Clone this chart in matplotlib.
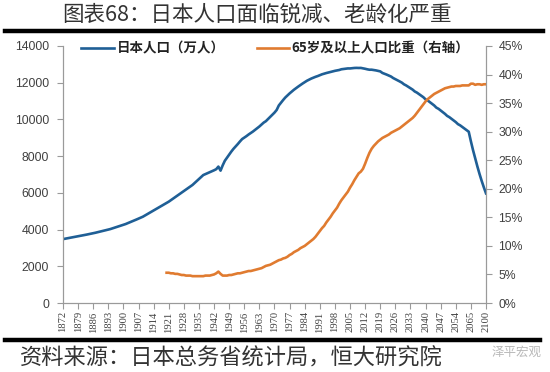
import numpy as np
import matplotlib
matplotlib.use("Agg")
import matplotlib.pyplot as plt
from matplotlib.lines import Line2D
from matplotlib.ticker import PercentFormatter

plt.rcParams['font.family'] = ['Noto Sans CJK SC', 'DejaVu Sans']

# ----------------------------
# Data
# ----------------------------

# categories: annual 1872-2060, then every 5 years to 2100
years = list(range(1872, 2061)) + [2065, 2070, 2075, 2080, 2085, 2090, 2095, 2100]

# Japan population (10k persons)
population = [
    3480, 3502, 3524, 3545, 3566, 3588, 3610, 3633,
    3656, 3680, 3703, 3727, 3751, 3775, 3800, 3827, 3855, 3883,
    3912, 3941, 3970, 4000, 4030, 4068, 4106, 4144, 4182, 4222,
    4260, 4300, 4348, 4396, 4446, 4496, 4546, 4596, 4648, 4700,
    4768, 4836, 4904, 4972, 5040, 5110, 5180, 5250, 5318, 5385,
    5452, 5520, 5603, 5686, 5769, 5852, 5935, 6018, 6100, 6183,
    6265, 6348, 6430, 6538, 6646, 6754, 6862, 6970, 7022, 7074,
    7126, 7178, 7230, 7290, 7430, 7210, 7500, 7750, 7920, 8080,
    8250, 8400, 8530, 8660, 8800, 8930, 9010, 9090, 9180, 9260,
    9340, 9430, 9520, 9616, 9718, 9828, 9904, 10020, 10133, 10254,
    10372, 10515, 10760, 10910, 11057, 11194, 11309, 11417, 11519, 11616,
    11706, 11790, 11873, 11954, 12031, 12105, 12166, 12224, 12275, 12321,
    12361, 12410, 12457, 12494, 12527, 12557, 12586, 12616, 12647, 12667,
    12693, 12732, 12749, 12769, 12779, 12777, 12790, 12803, 12808, 12803,
    12806, 12783, 12759, 12730, 12708, 12709, 12693, 12671, 12644, 12617,
    12532, 12488, 12440, 12389, 12336, 12254, 12194, 12133, 12070, 12005,
    11913, 11851, 11777, 11702, 11624, 11522, 11460, 11378, 11294, 11208,
    11092, 11031, 10942, 10851, 10760, 10642, 10578, 10486, 10394, 10302,
    10192, 10125, 10035, 9945, 9855, 9744, 9679, 9591, 9503, 9416,
    9330,
    8808, 8323, 7880, 7440, 7030, 6650, 6300, 5972,
]

# share of population aged 65+ (%), from 1920
aged_start = 1920
aged_share = [
    5.3, 5.3, 5.2, 5.2, 5.1, 5.1, 5.0, 4.9, 4.9, 4.8,
    4.8, 4.8, 4.7, 4.7, 4.7, 4.7, 4.7, 4.7, 4.8, 4.8,
    4.8, 4.9, 5.0, 5.2, 5.5, 5.1, 4.8, 4.8, 4.8, 4.9,
    4.9, 5.0, 5.1, 5.2, 5.2, 5.3, 5.4, 5.5, 5.6, 5.6,
    5.7, 5.8, 5.9, 6.0, 6.1, 6.3, 6.5, 6.6, 6.7, 6.9,
    7.1, 7.3, 7.5, 7.6, 7.8, 7.9, 8.1, 8.4, 8.6, 8.9,
    9.1, 9.3, 9.6, 9.8, 10.0, 10.3, 10.6, 10.9, 11.2, 11.6,
    12.1, 12.6, 13.1, 13.5, 14.1, 14.6, 15.1, 15.7, 16.2, 16.7,
    17.4, 18.0, 18.5, 19.0, 19.5, 20.2, 20.8, 21.5, 22.1, 22.7,
    23.0, 23.5, 24.4, 25.4, 26.3, 27.0, 27.5, 27.9, 28.3, 28.6,
    28.9, 29.1, 29.3, 29.5, 29.8, 30.0, 30.2, 30.4, 30.6, 30.9,
    31.2, 31.5, 31.8, 32.1, 32.4, 32.8, 33.3, 33.8, 34.3, 34.8,
    35.3, 35.7, 36.0, 36.3, 36.6, 36.8, 37.0, 37.2, 37.4, 37.6,
    37.7, 37.8, 37.9, 37.9, 38.0, 38.0, 38.0, 38.1, 38.1, 38.1,
    38.1,
    38.4, 38.4, 38.2, 38.3, 38.3, 38.2, 38.3, 38.3,
]

title = "图表68：日本人口面临锐减、老龄化严重"
source = "资料来源：日本总务省统计局，恒大研究院"
label_pop = "日本人口（万人）"
label_aged = "65岁及以上人口比重（右轴）"

# ----------------------------
# Figure
# ----------------------------

blue = "#1f5f96"
orange = "#e07b30"
spine_c = "#9a9a9a"
text_c = "#404040"

fig = plt.figure(figsize=(5.5, 3.72), dpi=100)
ax = fig.add_axes([63 / 550, 69 / 372, 423 / 550, 257 / 372])
ax2 = ax.twinx()

x = np.arange(len(years))
i0 = years.index(aged_start)
x_aged = x[i0:i0 + len(aged_share)]

l1, = ax.plot(x, population, color=blue, lw=1.9, label=label_pop)
l2, = ax2.plot(x_aged, aged_share, color=orange, lw=1.9, label=label_aged)

ax.set_xlim(0, len(years) - 1)
ax.set_ylim(0, 14000)
ax.set_yticks(np.arange(0, 14001, 2000))
ax2.set_ylim(0, 45)
ax2.set_yticks(np.arange(0, 46, 5))
ax2.yaxis.set_major_formatter(PercentFormatter(xmax=100, decimals=0))

tick_idx = x[::7]
ax.set_xticks(tick_idx)
ax.set_xticklabels([str(years[i]) for i in tick_idx], rotation=90,
                   fontfamily="Liberation Serif", fontsize=7.6, color=text_c)

for a in (ax, ax2):
    for s in a.spines.values():
        s.set_color(spine_c)
        s.set_linewidth(0.8)
    a.spines["top"].set_visible(False)
    a.tick_params(colors=spine_c, length=4, width=0.8, labelcolor=text_c)
for lab in ax.get_yticklabels() + ax2.get_yticklabels():
    lab.set_fontfamily("Liberation Sans")
    lab.set_fontsize(8.8)
ax.tick_params(axis="y", pad=6)
ax2.tick_params(axis="y", pad=5)
ax.tick_params(axis="x", length=4, pad=2)

leg = ax.legend(handles=[l1, l2], loc="upper left", bbox_to_anchor=(0.015, 1.065),
                ncol=2, frameon=False, handlelength=2.4, handletextpad=0.2,
                columnspacing=2.4, prop={"family": "Noto Sans CJK SC", "size": 9.7,
                                         "weight": "bold"})
for t in leg.get_texts():
    t.set_color("#222222")

# title, rules and source
fig.text(0.467, 1 - 15 / 372, title, ha="center", va="center", fontsize=15.5, color="#333333")
fig.add_artist(Line2D([5 / 550, 543 / 550], [1 - 31 / 372] * 2, color="black", lw=3.2))
fig.add_artist(Line2D([5 / 550, 540 / 550], [1 - 340 / 372] * 2, color="black", lw=3.2))
fig.text(20 / 550, 1 - 358 / 372, source, ha="left", va="center", fontsize=16,
         style="italic", color="#333333")
fig.text(542 / 550, 1 - 352 / 372, "泽平宏观", ha="right", va="center", fontsize=9,
         color="#b8b8b8")

fig.savefig("out.png", dpi=100)
